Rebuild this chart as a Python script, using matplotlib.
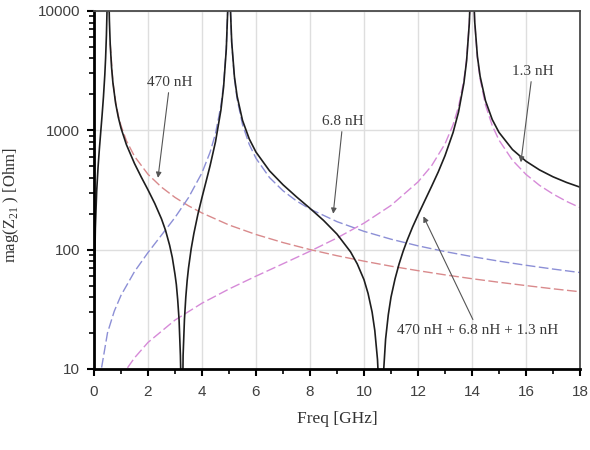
import matplotlib
matplotlib.use("Agg")
import matplotlib.pyplot as plt
from matplotlib.ticker import LogLocator, NullFormatter, MultipleLocator

# values (Freq in GHz, |Z21| in Ohm)
freq_sum = [0.002, 0.0034, 0.01, 0.02, 0.05, 0.1, 0.15, 0.2, 0.25, 0.3, 0.35, 0.4, 0.43, 0.46,
            0.48, 0.49, 0.5, 0.53, 0.55, 0.57, 0.6, 0.65, 0.7, 0.8, 0.9, 1.0, 1.2, 1.5, 1.75, 2.0,
            2.25, 2.5, 2.65, 2.8, 2.9, 3.0, 3.05, 3.1, 3.15, 3.2, 3.225, 3.245, 3.3, 3.35, 3.4,
            3.45, 3.5, 3.6, 3.7, 3.85, 4.0, 4.15, 4.3, 4.5, 4.7, 4.8, 4.9, 4.95,
            4.98, 5.02, 5.05, 5.1, 5.2, 5.3, 5.5, 5.75, 6.0, 6.5, 7.0, 7.5, 8.0, 8.5, 9.0, 9.5,
            9.75, 10.0, 10.15, 10.3, 10.4, 10.5, 10.55, 10.62, 10.7, 10.8, 10.9, 11.0, 11.15, 11.3,
            11.45, 11.6, 11.8, 12.0, 12.25, 12.5, 12.75, 13.0, 13.3,
            13.5, 13.7, 13.8, 13.9, 13.95, 14.05, 14.1, 14.2, 14.3, 14.5, 14.75, 15.0, 15.5, 16.0,
            16.5, 17.0, 17.5, 18.0]
z_sum = [6, 10.2, 30, 60, 151, 311, 490, 703, 972, 1342, 1906, 2912, 4037, 6268,
         9605, 12930, 19600, 40300, 13655, 8325, 5318, 3381, 2511, 1689, 1288, 1044, 759, 527, 406, 317,
         244, 181, 145, 109, 86, 62, 51, 38, 26, 13, 7, 1, 13, 26, 40,
         55, 70, 102, 137, 199, 274, 372, 506, 802, 1475, 2309, 4797, 9770,
         24700, 26860, 10848, 5503, 2829, 1934, 1213, 847, 657, 458, 350, 277, 222, 176, 135, 96,
         76, 56, 43, 30, 21, 12, 7, 1, 7.7, 17.8, 28.5, 40, 57, 76,
         97, 120, 155, 195, 257, 338, 448, 613, 960,
         1420, 2491, 3823, 7844, 15900, 16174, 8174, 4172, 2837, 1768, 1231, 961, 690, 551,
         466, 408, 366, 334]

freq_470 = [0.6, 0.7, 0.8, 0.9, 1.0, 1.2, 1.5, 2.0, 2.5, 3.0, 3.5, 4.0, 5.0, 6.0, 7.0, 8.0,
            9.0, 10.0, 11.0, 12.0, 13.0, 14.0, 15.0, 16.0, 17.0, 18.0]
z_470 = [5347, 2545, 1728, 1332, 1094, 819, 605, 428, 334, 274, 233, 203, 161, 134, 114.7, 100.2,
         89, 80.1, 72.7, 66.7, 61.5, 57.1, 53.3, 50.0, 47.0, 44.4]

freq_68 = [0.2, 0.5, 0.75, 1.0, 1.5, 2.0, 2.5, 3.0, 3.5, 4.0, 4.3, 4.5, 4.7, 4.8, 4.9, 4.95,
           4.98, 5.02, 5.05, 5.1, 5.2, 5.3, 5.5, 5.75, 6.0, 6.5, 7.0, 7.5, 8.0, 9.0, 10.0, 11.0,
           12.0, 13.0, 14.0, 15.0, 16.0, 17.0, 18.0]
z_68 = [8.0, 20.1, 30.5, 41.4, 65.5, 94.6, 132.5, 186, 273, 441, 656, 941, 1604, 2433, 4917, 9886,
        24800, 26750, 10736, 5394, 2723, 1832, 1119, 762, 583, 402, 311.6, 256, 219, 171.7, 142.4, 122.4,
        107.7, 96.4, 87.5, 80.1, 74, 68.8, 64.3]

freq_13 = [1.0, 1.25, 1.5, 2, 3, 4, 5, 6, 7, 8, 9, 10, 11, 12, 12.5, 13, 13.3, 13.5, 13.7, 13.8,
           13.9, 13.95, 14.05, 14.1, 14.2, 14.3, 14.5, 14.75, 15.0, 15.5, 16, 16.5, 17, 17.5, 18]
z_13 = [8.2, 10.3, 12.4, 16.7, 25.7, 35.6, 46.8, 60.0, 76.2, 97.0, 125.3, 166.8, 234.8, 369.4, 503.4,
        770.5, 1114, 1571, 2640, 3970, 7990, 16040, 16030, 8030, 4030, 2696, 1629, 1095, 828, 561,
        427, 346, 292.7, 254, 225.1]

x_ticks = [0, 2, 4, 6, 8, 10, 12, 14, 16, 18]
y_ticks = [10, 100, 1000, 10000]
y_ticklabels = ['10', '100', '1000', '10000']

# annotations: text, arrow tip (freq, Z), text centre (freq, Z)
notes = [
    ('470 nH', (2.37, 400), (2.81, 2540)),
    ('6.8 nH', (8.86, 200), (9.22, 1197)),
    ('1.3 nH', (15.81, 540), (16.24, 3141)),
    ('470 nH + 6.8 nH + 1.3 nH', (12.2, 190), (14.22, 21.2)),
]

serif = ['Liberation Serif', 'DejaVu Serif']
sans = ['Liberation Sans', 'DejaVu Sans']

fig = plt.figure(figsize=(5.9, 4.5), dpi=100)
ax = fig.add_axes([94/590, 81/450, 486/590, 358/450])

dash = (0, (7, 2.5))
ax.plot(freq_470, z_470, color='#d98a8c', lw=1.0, linestyle=dash)
ax.plot(freq_68, z_68, color='#8c8fd6', lw=1.0, linestyle=dash)
ax.plot(freq_13, z_13, color='#d68ad8', lw=1.0, linestyle=dash)
ax.plot(freq_sum, z_sum, color='#1e1e1e', lw=1.2)

ax.set_yscale('log')
ax.set_xlim(0, 18)
ax.set_ylim(10, 10000)

ax.set_xticks(x_ticks)
ax.xaxis.set_minor_locator(MultipleLocator(1))
ax.set_yticks(y_ticks)
ax.set_yticklabels(y_ticklabels)
ax.yaxis.set_minor_locator(LogLocator(base=10, subs=range(2, 10)))
ax.yaxis.set_minor_formatter(NullFormatter())

ax.tick_params(axis='both', which='major', direction='out', length=5, width=1.5,
               labelsize=11, labelcolor='#404040')
ax.tick_params(axis='both', which='minor', direction='out', length=3.5, width=1.2)
ax.tick_params(axis='x', which='major', pad=6.5)
ax.tick_params(axis='y', which='major', pad=5)
for lab in ax.get_xticklabels() + ax.get_yticklabels():
    lab.set_family(sans)

ax.grid(True, which='major', color='#dedede', lw=1.0)
ax.set_axisbelow(True)

for side in ['left', 'bottom']:
    ax.spines[side].set_linewidth(2.0)
    ax.spines[side].set_color('black')
for side in ['top', 'right']:
    ax.spines[side].set_linewidth(1.3)
    ax.spines[side].set_color('#4a4a4a')

ax.set_xlabel('Freq [GHz]', fontsize=12.5, family=serif, color='#333333')
ax.set_ylabel(r'mag(Z$_{\mathregular{21}}$ ) [Ohm]', fontsize=12, family=serif, color='#333333')
ax.xaxis.set_label_coords(0.5, -0.118)
ax.yaxis.set_label_coords(-0.151, 0.458)

for txt, tip, pos in notes:
    ax.annotate(txt, xy=tip, xytext=pos, ha='center', va='center', fontsize=11,
                family=serif, color='#3a3a3a',
                arrowprops=dict(arrowstyle='-|>', color='#555555', lw=0.8,
                                mutation_scale=8, shrinkA=1, shrinkB=0))

fig.savefig('out.png', dpi=100)
